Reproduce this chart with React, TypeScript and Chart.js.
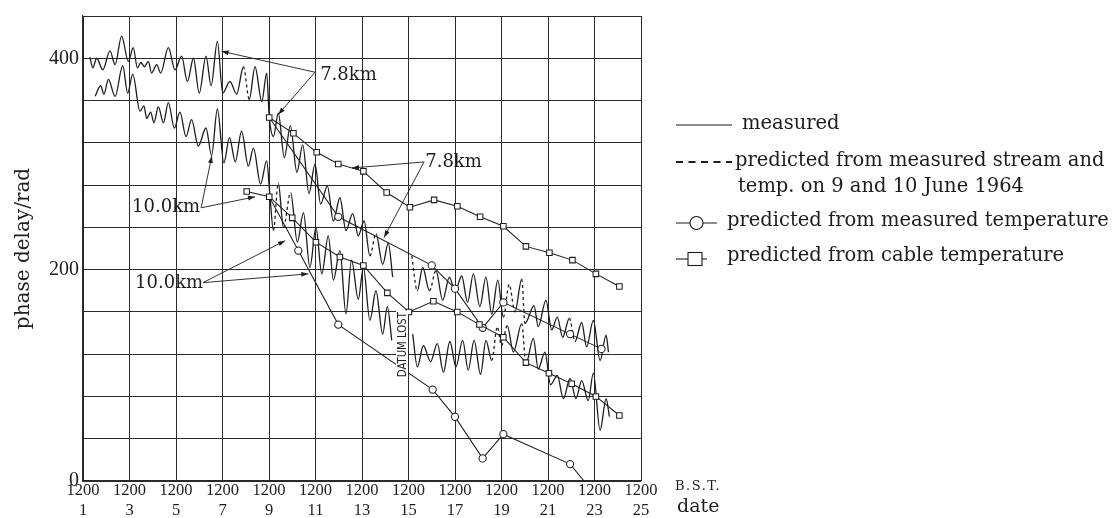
import React, { useEffect, useRef } from "react";
import { Chart, registerables } from "chart.js";

Chart.register(...registerables);

const INK = "#1d1d1d";

// ---- axes ----
const dayTicks = [1, 3, 5, 7, 9, 11, 13, 15, 17, 19, 21, 23, 25];
const timeLabel = "1200";
const yLabelled = [0, 200, 400];

// ---- measured phase delay, 7.8 km (before data loss) ----
const m78aDays = [1.30, 1.42, 1.59, 1.85, 2.16, 2.38, 2.66, 2.95, 3.16, 3.34, 3.49, 3.64, 3.81, 3.95, 4.17, 4.34, 4.67, 4.96, 5.24, 5.49, 5.75, 6.00, 6.29, 6.51, 6.78, 7.01, 7.32, 7.61, 7.90, 8.15, 8.40, 8.69, 8.90, 9.01, 9.19, 9.40, 9.66, 9.92, 10.20, 10.45, 10.72, 10.98, 11.22, 11.51, 11.77, 12.05, 12.31, 12.60, 12.84, 13.09, 13.34, 13.60, 13.89, 14.13, 14.32];
const m78aVals = [401, 391, 400, 389, 407, 394, 421, 397, 410, 391, 396, 392, 397, 386, 394, 386, 410, 389, 402, 378, 400, 367, 402, 374, 416, 367, 378, 366, 392, 361, 392, 359, 386, 345, 326, 348, 306, 336, 292, 318, 272, 300, 262, 279, 246, 268, 237, 253, 232, 246, 213, 234, 205, 225, 193];
// ---- measured, 7.8 km (after data loss) ----
const m78bDays = [15.14, 15.38, 15.61, 15.90, 16.18, 16.47, 16.76, 17.00, 17.29, 17.54, 17.79, 18.07, 18.33, 18.58, 18.84, 19.08, 19.33, 19.58, 19.87, 20.01, 20.40, 20.58, 20.91, 21.16, 21.40, 21.63, 21.92, 22.16, 22.45, 22.66, 22.95, 23.24, 23.50, 23.60];
const m78bVals = [213, 180, 202, 180, 199, 171, 193, 179, 194, 169, 196, 165, 193, 158, 190, 155, 186, 160, 191, 149, 166, 146, 171, 143, 155, 136, 154, 132, 150, 127, 152, 114, 138, 122];

// ---- measured, 10.0 km (before data loss) ----
const m100aDays = [1.52, 1.76, 1.90, 2.09, 2.38, 2.71, 2.92, 3.14, 3.45, 3.62, 3.74, 3.91, 4.05, 4.24, 4.46, 4.67, 4.93, 5.17, 5.43, 5.67, 5.96, 6.29, 6.53, 6.78, 7.06, 7.30, 7.55, 7.82, 8.11, 8.33, 8.64, 8.90, 9.04, 9.19, 9.40, 9.62, 9.93, 10.22, 10.48, 10.76, 11.02, 11.27, 11.55, 11.77, 12.05, 12.31, 12.55, 12.84, 13.06, 13.34, 13.60, 13.89, 14.09, 14.28];
const m100aVals = [364, 374, 366, 380, 364, 393, 367, 385, 350, 355, 343, 349, 339, 354, 339, 358, 334, 349, 326, 342, 317, 334, 308, 352, 301, 325, 302, 331, 298, 315, 281, 303, 270, 237, 282, 240, 273, 226, 254, 202, 240, 196, 232, 190, 218, 158, 209, 172, 202, 152, 180, 139, 165, 133];
// ---- measured, 10.0 km (after data loss) ----
const m100bDays = [15.18, 15.38, 15.64, 15.95, 16.24, 16.50, 16.78, 17.04, 17.33, 17.57, 17.82, 18.10, 18.33, 18.58, 18.82, 19.00, 19.25, 19.51, 19.87, 20.05, 20.37, 20.58, 20.87, 21.11, 21.40, 21.66, 21.95, 22.20, 22.45, 22.73, 22.95, 23.24, 23.50, 23.64];
const m100bVals = [139, 108, 128, 113, 130, 103, 132, 108, 133, 105, 133, 101, 133, 114, 146, 128, 147, 122, 149, 111, 135, 106, 122, 91, 100, 78, 97, 78, 95, 76, 102, 48, 78, 61];

// stretches drawn dashed (predicted from measured stream and temperature)
const dash78 = [[7.90, 8.15], [13.34, 13.60], [15.14, 15.38], [15.90, 16.18], [19.08, 19.58], [19.87, 20.01], [21.92, 22.16]];
const dash100 = [[9.19, 9.40], [9.62, 9.93], [18.58, 18.82], [18.82, 19.25], [19.87, 20.05]];

// ---- predicted from cable temperature (squares) ----
const sq78Days = [9.01, 10.05, 11.05, 11.98, 13.06, 14.06, 15.06, 16.10, 17.10, 18.08, 19.08, 20.05, 21.06, 22.05, 23.06, 24.07];
const sq78Vals = [344, 329, 311, 300, 293, 273, 259, 266, 260, 250, 241, 222, 216, 209, 196, 184];
const sq100Days = [8.04, 9.01, 10.00, 11.02, 12.05, 13.06, 14.09, 15.02, 16.07, 17.10, 18.05, 19.08, 20.05, 21.04, 22.02, 23.06, 24.07];
const sq100Vals = [274, 269, 249, 226, 212, 204, 178, 160, 170, 160, 148, 136, 112, 102, 92, 80, 62];

// ---- predicted from measured temperature (circles) ----
const c78Days = [9.01, 11.98, 16.00, 17.00, 18.19, 19.08, 21.95, 23.30];
const c78Vals = [344, 250, 204, 182, 145, 169, 139, 125];
const c78Marked = [false, true, true, true, true, true, true, true];
const c100Days = [9.01, 10.26, 11.98, 16.04, 17.00, 18.19, 19.08, 21.95, 23.00];
const c100Vals = [269, 218, 148, 86.5, 60.7, 21.4, 44.3, 16, -12];
const c100Marked = [false, true, true, true, true, true, true, true, false];

// ---- annotations ----
const kmText = ["7.8km", "7.8km", "10.0km", "10.0km"];
const kmDay = [11.2, 15.72, 3.11, 3.24];
const kmVal = [384, 302, 258.5, 187];
const arrowFromDay = [10.98, 10.98, 15.67, 15.67, 6.08, 6.08, 6.16, 6.16];
const arrowFromVal = [386.8, 386.8, 301.9, 301.9, 258.5, 258.5, 187.7, 187.7];
const arrowToDay = [6.96, 9.40, 12.57, 13.95, 6.54, 8.40, 9.69, 10.69];
const arrowToVal = [406.6, 346.9, 296.2, 230.5, 307.5, 268.9, 227.4, 196];
const datumText = "DATUM LOST";
const datumDay = 14.72;
const datumVal = 129;

const legendTexts = [
  "measured",
  "predicted from measured stream and",
  "temp. on 9 and 10 June 1964",
  "predicted from measured temperature",
  "predicted from cable temperature",
];

const pts = (ds: number[], vs: number[]) => ds.map((d, i) => ({ x: d, y: vs[i] }));

const dashBy = (ranges: number[][]) => (ctx: any) => {
  const a = ctx.p0.parsed.x;
  const b = ctx.p1.parsed.x;
  return ranges.some(([s, e]) => a >= s - 1e-6 && b <= e + 1e-6) ? [3, 3] : undefined;
};

const serif = '"DejaVu Serif", serif';
const tickSerif = '"Liberation Serif", serif';

function arrow(ctx: CanvasRenderingContext2D, x0: number, y0: number, x1: number, y1: number) {
  ctx.beginPath();
  ctx.moveTo(x0, y0);
  ctx.lineTo(x1, y1);
  ctx.stroke();
  const ang = Math.atan2(y1 - y0, x1 - x0);
  const L = 7, W = 2.4;
  ctx.beginPath();
  ctx.moveTo(x1, y1);
  ctx.lineTo(x1 - L * Math.cos(ang) + W * Math.sin(ang), y1 - L * Math.sin(ang) - W * Math.cos(ang));
  ctx.lineTo(x1 - L * Math.cos(ang) - W * Math.sin(ang), y1 - L * Math.sin(ang) + W * Math.cos(ang));
  ctx.closePath();
  ctx.fill();
}

const decor = {
  id: "decor",
  afterDatasetsDraw(chart: any) {
    const { ctx, scales } = chart;
    const xs = scales.x, ys = scales.y;
    const px = (d: number) => xs.getPixelForValue(d);
    const py = (v: number) => ys.getPixelForValue(v);
    ctx.save();
    ctx.strokeStyle = INK;
    ctx.fillStyle = INK;
    ctx.lineWidth = 1;

    // DATUM LOST
    {
      const cx = px(datumDay), cy = py(datumVal);
      ctx.save();
      ctx.translate(cx, cy);
      ctx.rotate(-Math.PI / 2);
      ctx.font = '12px "DejaVu Sans", sans-serif';
      const w = ctx.measureText(datumText).width;
      const sx = 65 / w;
      ctx.fillStyle = "#fff";
      ctx.fillRect(-34, -6, 68, 12);
      ctx.scale(sx, 1);
      ctx.fillStyle = INK;
      ctx.textAlign = "center";
      ctx.textBaseline = "middle";
      ctx.fillText(datumText, 0, 0.5);
      ctx.restore();
    }

    // km labels and arrows
    ctx.font = `18px ${serif}`;
    ctx.textAlign = "left";
    ctx.textBaseline = "middle";
    kmText.forEach((t, i) => {
      ctx.fillText(t, px(kmDay[i]), py(kmVal[i]));
    });
    ctx.lineWidth = 0.9;
    arrowFromDay.forEach((d, i) => {
      arrow(ctx, px(d), py(arrowFromVal[i]), px(arrowToDay[i]), py(arrowToVal[i]));
    });
    ctx.restore();
  },
  afterDraw(chart: any) {
    const { ctx, chartArea } = chart;
    ctx.save();
    ctx.fillStyle = INK;
    ctx.strokeStyle = INK;

    // y title
    ctx.save();
    ctx.translate(24, (chartArea.top + chartArea.bottom) / 2);
    ctx.rotate(-Math.PI / 2);
    ctx.font = `20px ${serif}`;
    ctx.textAlign = "center";
    ctx.textBaseline = "middle";
    ctx.fillText("phase delay/rad", 0, 0);
    ctx.restore();

    // x-axis end labels
    const xr = chartArea.right;
    ctx.font = `13px ${serif}`;
    ctx.textAlign = "left";
    ctx.textBaseline = "middle";
    (ctx as any).letterSpacing = "1.5px";
    ctx.fillText("B.S.T.", xr + 34, chartArea.bottom + 6);
    (ctx as any).letterSpacing = "0px";
    ctx.font = `19px ${serif}`;
    ctx.fillText("date", xr + 36, chartArea.bottom + 26);

    // legend
    const lx = xr + 35;
    const rows = [124, 161, 187, 221, 256];
    ctx.font = `19.5px ${serif}`;
    ctx.lineWidth = 1.1;
    // measured
    ctx.beginPath();
    ctx.moveTo(lx, rows[0] + 1);
    ctx.lineTo(lx + 56, rows[0] + 1);
    ctx.stroke();
    ctx.fillText(legendTexts[0], lx + 66, rows[0]);
    // dashed
    ctx.save();
    ctx.lineWidth = 2;
    ctx.setLineDash([7, 5.5]);
    ctx.beginPath();
    ctx.moveTo(lx, rows[1] + 1);
    ctx.lineTo(lx + 56, rows[1] + 1);
    ctx.stroke();
    ctx.restore();
    ctx.fillText(legendTexts[1], lx + 59, rows[1]);
    ctx.fillText(legendTexts[2], lx + 62, rows[2]);
    // circle
    ctx.beginPath();
    ctx.moveTo(lx, rows[3] + 2);
    ctx.lineTo(lx + 41, rows[3] + 2);
    ctx.stroke();
    ctx.beginPath();
    ctx.arc(lx + 20.5, rows[3] + 2, 6.5, 0, Math.PI * 2);
    ctx.fillStyle = "#fff";
    ctx.fill();
    ctx.stroke();
    ctx.fillStyle = INK;
    ctx.fillText(legendTexts[3], lx + 51, rows[3]);
    // square
    ctx.beginPath();
    ctx.moveTo(lx, rows[4] + 3);
    ctx.lineTo(lx + 31, rows[4] + 3);
    ctx.stroke();
    ctx.fillStyle = "#fff";
    ctx.fillRect(lx + 12, rows[4] - 3.5, 14, 13);
    ctx.strokeRect(lx + 12, rows[4] - 3.5, 14, 13);
    ctx.fillStyle = INK;
    ctx.fillText(legendTexts[4], lx + 51, rows[4]);
    ctx.restore();
  },
};

export default function App() {
  const ref = useRef<HTMLCanvasElement | null>(null);
  useEffect(() => {
    if (!ref.current) return;
    const measured = (d: number[], v: number[], dash: number[][]) => ({
      data: pts(d, v),
      borderColor: INK,
      borderWidth: 1.3,
      pointRadius: 0,
      fill: false,
      cubicInterpolationMode: "monotone" as const,
      segment: { borderDash: dashBy(dash) },
    });
    const marked = (d: number[], v: number[], style: string, shown?: boolean[]) => ({
      data: pts(d, v),
      borderColor: INK,
      borderWidth: 1.05,
      tension: 0,
      fill: false,
      pointStyle: style,
      pointRadius: shown ? shown.map((s) => (s ? (style === "rect" ? 3.9 : 3.6) : 0)) : (style === "rect" ? 3.9 : 3.6),
      pointBackgroundColor: "#fff",
      pointBorderColor: INK,
      pointBorderWidth: 1.05,
    });
    const chart = new Chart(ref.current, {
      type: "line",
      data: {
        datasets: [
          marked(sq78Days, sq78Vals, "rect"),
          marked(sq100Days, sq100Vals, "rect"),
          marked(c78Days, c78Vals, "circle", c78Marked),
          marked(c100Days, c100Vals, "circle", c100Marked),
          measured(m78aDays, m78aVals, dash78),
          measured(m78bDays, m78bVals, dash78),
          measured(m100aDays, m100aVals, dash100),
          measured(m100bDays, m100bVals, dash100),
        ] as any,
      },
      options: {
        responsive: false,
        animation: false,
        events: [],
        layout: { padding: { left: 0, top: 15, right: 476, bottom: 0 } },
        plugins: { legend: { display: false }, tooltip: { enabled: false }, title: { display: false } },
        scales: {
          x: {
            type: "linear",
            min: 1,
            max: 25,
            afterFit: (s: any) => { s.height = 37; },
            afterBuildTicks: (s: any) => { s.ticks = dayTicks.map((v) => ({ value: v })); },
            grid: { color: "#2a2a2a", lineWidth: 1, drawTicks: false },
            border: { color: "#2a2a2a", width: 1.2 },
            ticks: {
              padding: 0,
              maxRotation: 0,
              autoSkip: false,
              color: INK,
              font: { family: tickSerif, size: 16.5, lineHeight: 1.2 },
              callback: (v: any) => [timeLabel, String(v)],
            },
          },
          y: {
            type: "linear",
            min: 0,
            max: 440,
            afterFit: (s: any) => { s.width = 83; },
            grid: { color: "#2a2a2a", lineWidth: 1, drawTicks: false },
            border: { color: "#2a2a2a", width: 1.2 },
            ticks: {
              stepSize: 40,
              padding: 4,
              autoSkip: false,
              color: INK,
              font: { family: tickSerif, size: 20 },
              callback: (v: any) => (yLabelled.includes(Number(v)) ? String(v) : ""),
            },
          },
        },
      },
      plugins: [decor],
    });
    return () => chart.destroy();
  }, []);
  return (
    <div style={{ position: "fixed", left: 0, top: 0, width: 1117, height: 518, background: "#fff" }}>
      <canvas ref={ref} width={1117} height={518} />
    </div>
  );
}
